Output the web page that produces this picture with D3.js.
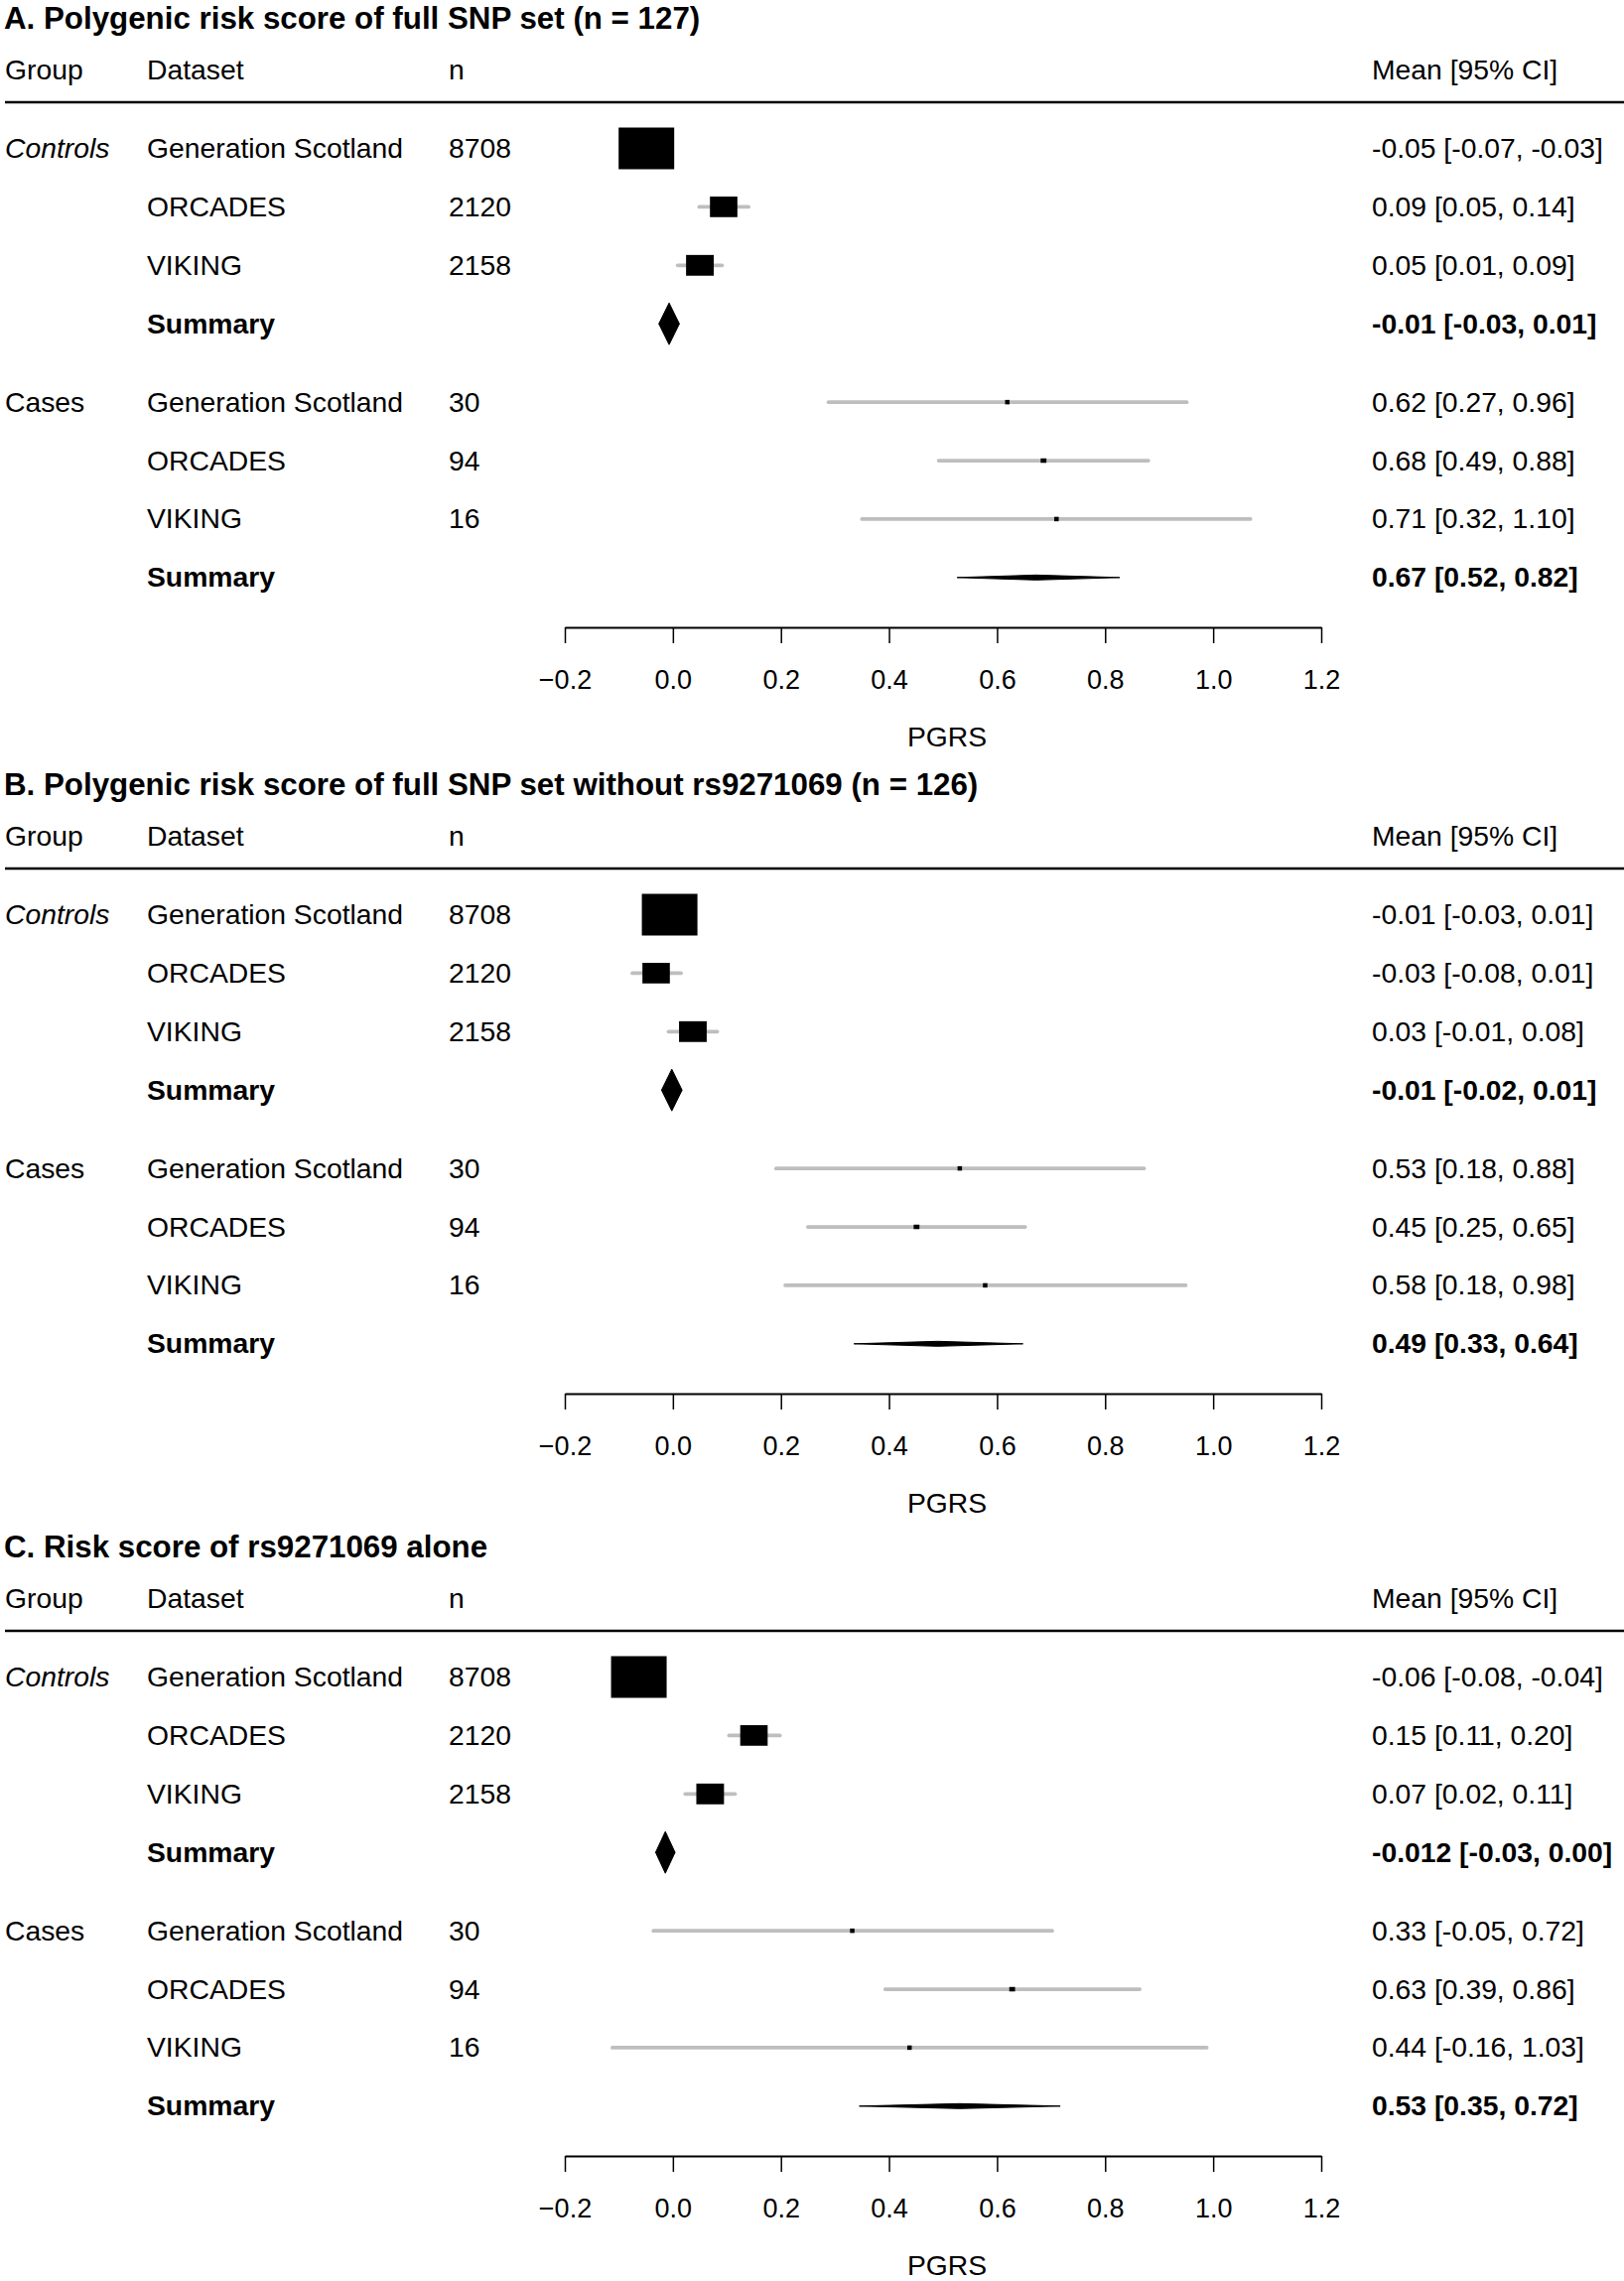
<!DOCTYPE html>
<html>
<head>
<meta charset="utf-8">
<script src="https://cdn.jsdelivr.net/npm/d3@7"></script>
<style>
  body { margin: 0; background: #fff; }
  svg { display: block; font-family: "Liberation Sans", Arial, Helvetica, sans-serif; }
  .ci { stroke: #bebebe; stroke-width: 3.8; stroke-linecap: round; }
  .axis path, .axis line { stroke: #000; }
  .axis path { stroke-width: 2; }
  .axis line { stroke-width: 1.5; }
</style>
</head>
<body>
<div id="chart"></div>
<script>
// Forest plots: drei Panels, Controls / Cases je Datensatz

const PANEL_TITLES = [
  "A. Polygenic risk score of full SNP set (n = 127)",
  "B. Polygenic risk score of full SNP set without rs9271069 (n = 126)",
  "C. Risk score of rs9271069 alone"
];
const HEADERS = ["Group", "Dataset", "n", "Mean [95% CI]"];
const GROUPS = ["Controls", "Cases"];
const DATASETS = ["Generation Scotland", "ORCADES", "VIKING", "Summary"];
const N_CONTROLS = [8708, 2120, 2158];
const N_CASES = [30, 94, 16];
const TICKS = [-0.2, 0.0, 0.2, 0.4, 0.6, 0.8, 1.0, 1.2];
const AXIS_LABEL = "PGRS";

// je Panel: 3 Controls + Summary, 3 Cases + Summary
const MEAN_A = [-0.049, 0.094, 0.050, -0.007, 0.619, 0.686, 0.710, 0.672];
const LO_A   = [-0.07, 0.049, 0.009, -0.026, 0.288, 0.492, 0.350, 0.526];
const HI_A   = [-0.03, 0.140, 0.091, 0.012, 0.951, 0.880, 1.069, 0.827];
const TEXT_A = ["-0.05 [-0.07, -0.03]", "0.09 [0.05, 0.14]", "0.05 [0.01, 0.09]", "-0.01 [-0.03, 0.01]",
                "0.62 [0.27, 0.96]", "0.68 [0.49, 0.88]", "0.71 [0.32, 1.10]", "0.67 [0.52, 0.82]"];

const MEAN_B = [-0.006, -0.031, 0.037, -0.002, 0.531, 0.451, 0.578, 0.490];
const LO_B   = [-0.03, -0.075, -0.008, -0.021, 0.191, 0.250, 0.208, 0.335];
const HI_B   = [0.01, 0.015, 0.082, 0.017, 0.872, 0.652, 0.949, 0.648];
const TEXT_B = ["-0.01 [-0.03, 0.01]", "-0.03 [-0.08, 0.01]", "0.03 [-0.01, 0.08]", "-0.01 [-0.02, 0.01]",
                "0.53 [0.18, 0.88]", "0.45 [0.25, 0.65]", "0.58 [0.18, 0.98]", "0.49 [0.33, 0.64]"];

const MEAN_C = [-0.063, 0.150, 0.069, -0.014, 0.332, 0.628, 0.438, 0.531];
const LO_C   = [-0.08, 0.104, 0.023, -0.032, -0.036, 0.393, -0.112, 0.345];
const HI_C   = [-0.04, 0.198, 0.115, 0.004, 0.702, 0.864, 0.988, 0.717];
const TEXT_C = ["-0.06 [-0.08, -0.04]", "0.15 [0.11, 0.20]", "0.07 [0.02, 0.11]", "-0.012 [-0.03, 0.00]",
                "0.33 [-0.05, 0.72]", "0.63 [0.39, 0.86]", "0.44 [-0.16, 1.03]", "0.53 [0.35, 0.72]"];

const PANELS = [
  { title: PANEL_TITLES[0], mean: MEAN_A, lo: LO_A, hi: HI_A, text: TEXT_A },
  { title: PANEL_TITLES[1], mean: MEAN_B, lo: LO_B, hi: HI_B, text: TEXT_B },
  { title: PANEL_TITLES[2], mean: MEAN_C, lo: LO_C, hi: HI_C, text: TEXT_C }
];

(function () {
  const W = 1636, H = 2298;
  const FS = 28.3;
  const panelTop = [0, 772, 1540];
  const colX = [5, 148, 452, 1382];

  const svg = d3.select("#chart").append("svg")
    .attr("width", W).attr("height", H)
    .attr("viewBox", `0 0 ${W} ${H}`);

  const x = d3.scaleLinear().domain([-0.2, 1.2]).range([569, 1331]);
  // Zeilenindex -> y (Cases-Block mit etwas Abstand)
  const rowY = d3.scaleLinear().domain([0, 1]).range([149.5, 208.4]);
  const rowIndex = i => (i < 4 ? i : i + 0.34);
  // Boxgröße ~ sqrt(n)
  const size = d3.scaleSqrt().domain([0, 8708]).range([0, 56]);
  const ASPECT = 0.75;

  PANELS.forEach((p, pi) => {
    const g = svg.append("g").attr("transform", `translate(0,${panelTop[pi]})`);

    g.append("text")
      .attr("x", 4).attr("y", 29)
      .attr("font-size", 31.3).attr("font-weight", "bold")
      .text(p.title);

    // Kopfzeile
    g.selectAll("text.head").data(HEADERS).enter().append("text")
      .attr("class", "head")
      .attr("x", (_, i) => colX[i]).attr("y", 80)
      .attr("font-size", FS)
      .text(d => d);

    g.append("line")
      .attr("x1", 5).attr("x2", W).attr("y1", 103).attr("y2", 103)
      .attr("stroke", "#000").attr("stroke-width", 2.6);

    const rows = p.mean.map((m, i) => {
      const grp = i < 4 ? 0 : 1;
      const k = i % 4;
      const ns = grp === 0 ? N_CONTROLS : N_CASES;
      return {
        i, grp, k, mean: m, lo: p.lo[i], hi: p.hi[i], text: p.text[i],
        summary: k === 3,
        n: k < 3 ? ns[k] : null,
        y: rowY(rowIndex(i))
      };
    });

    // Tabellen-Text
    const txt = g.append("g").attr("font-size", FS);
    rows.forEach(r => {
      const base = r.y + 9.5;
      if (r.k === 0) {
        txt.append("text").attr("x", colX[0]).attr("y", base)
          .attr("font-style", r.grp === 0 ? "italic" : "normal")
          .text(GROUPS[r.grp]);
      }
      txt.append("text").attr("x", colX[1]).attr("y", base)
        .attr("font-weight", r.summary ? "bold" : "normal")
        .text(DATASETS[r.k]);
      if (r.n !== null) {
        txt.append("text").attr("x", colX[2]).attr("y", base).text(r.n);
      }
      txt.append("text").attr("x", colX[3]).attr("y", base)
        .attr("font-weight", r.summary ? "bold" : "normal")
        .text(r.text);
    });

    // Konfidenzintervalle
    const studies = rows.filter(r => !r.summary);
    g.append("g").selectAll("line").data(studies).enter().append("line")
      .attr("class", "ci")
      .attr("x1", d => x(d.lo)).attr("x2", d => x(d.hi))
      .attr("y1", d => d.y).attr("y2", d => d.y);

    // Boxen
    const bw = d => Math.max(4.5, size(d.n));
    const bh = d => Math.max(4.5, size(d.n) * ASPECT);
    g.append("g").selectAll("rect").data(studies).enter().append("rect")
      .attr("x", d => x(d.mean) - bw(d) / 2)
      .attr("y", d => d.y - bh(d) / 2)
      .attr("width", bw).attr("height", bh)
      .attr("fill", "#000");

    // Summary-Rauten
    const sums = rows.filter(r => r.summary);
    g.append("g").selectAll("path").data(sums).enter().append("path")
      .attr("d", d => {
        const grpStudies = studies.filter(s => s.grp === d.grp);
        const h = Math.max(5, d3.max(grpStudies, s => size(s.n) * ASPECT));
        return `M${x(d.lo)},${d.y}L${x(d.mean)},${d.y - h / 2}L${x(d.hi)},${d.y}L${x(d.mean)},${d.y + h / 2}Z`;
      })
      .attr("fill", "#000").attr("stroke", "#000").attr("stroke-width", 1);

    // Achse
    const ax = g.append("g")
      .attr("class", "axis")
      .attr("transform", "translate(0,632)")
      .call(d3.axisBottom(x).tickValues(TICKS).tickSize(16).tickSizeOuter(0)
        .tickPadding(27).tickFormat(d3.format(".1f")));
    ax.selectAll("text").attr("font-size", 27).attr("fill", "#000")
      .attr("font-family", "Liberation Sans, Arial, sans-serif");

    g.append("text")
      .attr("x", (x.range()[0] + x.range()[1]) / 2 + 4).attr("y", 752)
      .attr("text-anchor", "middle").attr("font-size", FS)
      .text(AXIS_LABEL);
  });
})();
</script>
</body>
</html>
